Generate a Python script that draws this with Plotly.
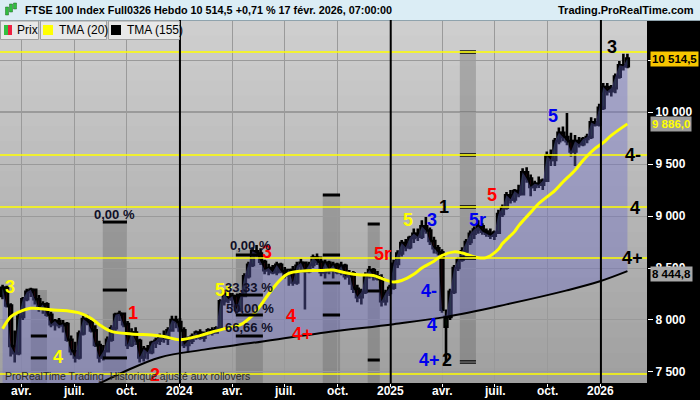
import plotly.graph_objects as go
import pandas as pd

# ---------------- data ----------------
weeks = pd.date_range("2023-02-27", periods=156, freq="7D")

opens = [8230,8310,8140,7750,7680,8030,8200,8270,8290,8200,8110,8150,8050,7960,7990,7950,7960,7810,7700,7640,
         7870,8010,7980,7900,7760,7640,7700,7810,7920,8050,8060,7960,7760,7880,7800,7640,7720,7690,7780,7800,
         7840,7820,7900,8000,7980,7900,7760,7800,7840,7880,7830,7870,7900,7880,7920,8180,8250,8200,8230,8100,
         8230,8420,8530,8660,8640,8560,8480,8500,8460,8530,8470,8430,8480,8360,8520,8550,8470,8530,8600,8560,
         8460,8550,8480,8530,8460,8520,8420,8450,8300,8220,8270,8430,8480,8420,8400,8180,8260,8310,8540,8640,
         8740,8700,8790,8830,8800,8900,8860,8760,8690,8650,7935,8030,8270,8500,8580,8660,8750,8830,8870,8900,
         8850,8830,8810,8840,9020,9080,9200,9160,9240,9210,9420,9360,9280,9310,9300,9340,9580,9540,9720,9800,
         9760,9720,9620,9720,9690,9740,9760,9900,9880,10040,10240,10200,10230,10340,10450,10440]
highs = [8340,8330,8160,7900,8080,8220,8300,8310,8300,8240,8180,8170,8080,8010,8020,8000,7980,7850,7790,7900,
         8040,8050,8000,7950,7800,7760,7840,7950,8070,8090,8070,7990,7920,7930,7820,7750,7760,7800,7830,7870,
         7900,7930,8040,8040,8020,7930,7840,7870,7900,7910,7890,7920,7930,7940,8200,8290,8280,8260,8240,8260,
         8450,8560,8700,8720,8690,8580,8540,8530,8560,8550,8510,8490,8520,8560,8590,8560,8560,8630,8640,8610,
         8580,8570,8560,8550,8560,8540,8480,8470,8340,8300,8460,8520,8500,8470,8440,8290,8340,8580,8670,8770,
         8780,8810,8880,8880,8960,8990,8890,8800,8720,8680,8100,8300,8530,8600,8700,8780,8860,8900,8960,8930,
         8880,8880,8860,9060,9110,9230,9250,9260,9300,9460,9470,9400,9340,9380,9360,9620,9640,9750,9850,9860,
         9990,9800,9780,9760,9760,9790,9950,9940,10080,10280,10280,10260,10370,10490,10560,10560]
lows = [8200,8120,7650,7590,7660,8000,8180,8220,8150,8080,8060,8030,7930,7900,7920,7880,7790,7660,7590,7620,
        7850,7950,7880,7740,7590,7610,7690,7790,7900,7990,7930,7720,7740,7760,7590,7600,7620,7670,7730,7760,
        7780,7760,7890,7920,7880,7730,7690,7770,7810,7810,7790,7850,7850,7870,7910,8140,8160,8120,8060,8080,
        8220,8400,8510,8600,8530,8440,8430,8440,8430,8450,8400,8330,8330,8340,8460,8100,8450,8500,8530,8420,
        8400,8440,8400,8440,8430,8390,8340,8260,8170,8150,8250,8400,8380,8380,8130,8140,8230,8290,8500,8610,
        8660,8680,8740,8760,8780,8830,8720,8640,8620,8070,7590,8000,8250,8470,8560,8640,8720,8780,8830,8820,
        8800,8780,8770,8830,8990,9060,9120,9130,9180,9200,9320,9190,9240,9270,9250,9330,9480,9480,9690,9720,
        9680,9570,9480,9660,9670,9700,9740,9860,9860,10020,10160,10150,10180,10320,10400,10420]
closes = [8310,8140,7750,7680,8030,8200,8270,8290,8200,8110,8150,8050,7960,7990,7950,7960,7810,7700,7640,7870,
          8010,7980,7900,7760,7640,7700,7810,7920,8050,8060,7960,7760,7880,7800,7640,7720,7690,7780,7800,7840,
          7820,7900,8000,7980,7900,7760,7800,7840,7880,7830,7870,7900,7880,7920,8180,8250,8200,8230,8100,8230,
          8420,8530,8660,8640,8560,8480,8500,8460,8530,8470,8430,8480,8360,8520,8550,8470,8530,8600,8560,8460,
          8550,8480,8530,8460,8520,8420,8450,8300,8220,8270,8430,8480,8420,8400,8180,8260,8310,8540,8640,8740,
          8700,8790,8830,8800,8900,8860,8760,8690,8650,8100,8030,8270,8500,8580,8660,8750,8830,8870,8900,8850,
          8830,8810,8840,9020,9080,9200,9160,9240,9210,9420,9360,9280,9310,9300,9340,9580,9540,9720,9800,9760,
          9720,9620,9720,9690,9740,9760,9900,9880,10040,10240,10200,10230,10340,10450,10440,10514.5]

tma20_idx = [0,2,4,7,12,16,19,22,24,27,32,37,40,44,49,52,56,59,62,64,66,69,71,74,79,82,85,89,92,94,97,99,
             102,104,107,109,112,114,118,120,123,124,127,128,131,133,137,139,142,144,147,149,151,155]
tma20_val = [7915,8030,8075,8112,8098,8088,8068,8015,7955,7890,7866,7855,7842,7810,7850,7885,7925,7955,8045,
             8140,8250,8390,8448,8470,8476,8480,8455,8433,8428,8400,8365,8380,8440,8500,8565,8620,8655,8645,
             8598,8600,8680,8735,8850,8905,9035,9120,9245,9327,9440,9535,9650,9705,9775,9886]

tma155_idx = [0,12,24,30,39,50,62,80,97,110,125,140,148,155]
tma155_val = [6980,7180,7390,7500,7640,7715,7780,7880,7960,8030,8150,8285,8370,8470]

yellow_levels = [10577, 9587, 9087, 8596, 7481]
year_dates = ["2024-01-01", "2025-01-01", "2026-01-01"]

band_start = ["2023-04-17", "2023-08-20", "2024-04-07", "2024-09-05", "2024-11-22", "2025-05-01"]
band_end = ["2023-05-15", "2023-10-01", "2024-05-24", "2024-10-05", "2024-12-13", "2025-05-29"]
band_top = [8288, 8942, 8673, 9202, 8933, 10577]
band_bottom = [7394, 7394, 7394, 7394, 7394, 7596]
band_levels = [[7846, 7635], [8942, 8288, 7635], [8625, 8240, 8048, 7846],
               [9202, 8625, 8356, 8048], [8923, 8279, 7615], [10577, 9587, 9087, 8596, 7596]]

wave_dates = ["2023-03-12", "2023-06-03", "2023-10-12", "2023-11-18", "2024-03-17", "2024-05-31",
              "2024-07-12", "2024-08-01", "2024-12-18", "2025-01-31", "2025-03-13", "2025-04-03",
              "2025-05-31", "2025-03-08", "2025-03-13", "2025-03-10", "2025-04-09", "2025-06-26",
              "2025-10-10", "2026-01-20", "2026-02-25", "2026-03-02", "2026-02-25"]
wave_values = [8317, 7644, 8067, 7471, 8288, 8654, 8038, 7865, 8635, 8962, 8962, 9087, 8962, 8279,
               7952, 7615, 7615, 9202, 9962, 10625, 9587, 9077, 8596]
wave_texts = ["3", "4", "1", "2", "5r", "3", "4", "4+", "5r", "5", "3", "1", "5r", "4-", "4", "4+",
              "2", "5", "5", "3", "4-", "4", "4+"]
wave_colors = ["#ffff00", "#ffff00", "#ff0000", "#ff0000", "#ffff00", "#ff0000", "#ff0000", "#ff0000",
               "#ff0000", "#ffff00", "#0000ee", "#000000", "#0000ee", "#0000ee", "#0000ee", "#0000ee",
               "#000000", "#ff0000", "#0000ee", "#000000", "#000000", "#000000", "#000000"]

pct_dates = ["2023-09-09", "2024-05-03", "2024-04-30", "2024-05-02", "2024-04-30"]
pct_values = [9019, 8712, 8308, 8115, 7923]
pct_texts = ["0,00 %", "0,00 %", "33,33 %", "50,00 %", "66,66 %"]

y_tickvals = [7500, 8000, 8500, 9000, 9500, 10000, 10500]
y_ticktext = ["7 500", "8 000", "8 500", "9 000", "9 500", "10 000", "10 500"]
x_tickvals = ["2023-04-01", "2023-07-01", "2023-10-01", "2024-01-01", "2024-04-01", "2024-07-01",
              "2024-10-01", "2025-01-01", "2025-04-01", "2025-07-01", "2025-10-01", "2026-01-01"]
x_ticktext = ["avr.", "juil.", "oct.", "2024", "avr.", "juil.", "oct.", "2025", "avr.", "juil.", "oct.", "2026"]

last_price, tma20_last, tma155_last = 10514.5, 9886.0, 8444.8

# ---------------- layout helpers ----------------
W, H, TOP = 647, 363, 20
FONT = "Liberation Sans, Arial, sans-serif"


def PX(x):
    return x / W


def PY(y):
    return (TOP + H - y) / H


fig = go.Figure()

tma155_x = [weeks[i] for i in tma155_idx]
tma20_x = [weeks[i] for i in tma20_idx]

fig.add_trace(go.Scatter(x=tma155_x, y=tma155_val, mode="lines",
                         line=dict(width=0, shape="spline", smoothing=1.0),
                         hoverinfo="skip", showlegend=False))
fig.add_trace(go.Scatter(x=weeks, y=closes, mode="lines", line=dict(width=0),
                         fill="tonexty", fillcolor="rgba(105,105,200,0.38)",
                         hoverinfo="skip", showlegend=False))
fig.add_trace(go.Scatter(x=tma155_x, y=tma155_val, mode="lines",
                         line=dict(width=2, color="#000000", shape="spline", smoothing=1.0),
                         hoverinfo="skip", showlegend=False))
fig.add_trace(go.Candlestick(x=weeks, open=opens, high=highs, low=lows, close=closes,
                             increasing=dict(line=dict(color="#000000", width=2.6), fillcolor="#33dd33"),
                             decreasing=dict(line=dict(color="#000000", width=2.6), fillcolor="#ff2040"),
                             whiskerwidth=0, hoverinfo="skip", showlegend=False))
fig.add_trace(go.Scatter(x=tma20_x, y=tma20_val, mode="lines",
                         line=dict(width=3, color="#ffff00", shape="spline", smoothing=1.0),
                         hoverinfo="skip", showlegend=False))

shapes = []
# gradient plot background (overlapping bands, no seams)
n = 24
for k in range(n):
    t = k / (n - 1)
    c = int(206 - 46 * t)
    shapes.append(dict(type="rect", xref="paper", yref="paper", x0=0, x1=1,
                       y0=max(0, 1 - (k + 1.6) / n), y1=1 - k / n, fillcolor=f"rgb({c},{c},{c})",
                       line=dict(width=0), layer="below"))
# header
shapes.append(dict(type="rect", xref="paper", yref="paper", x0=0, x1=700 / W, y0=1, y1=1 + TOP / H,
                   fillcolor="#dbedf5", line=dict(width=0), layer="below"))
shapes.append(dict(type="line", xref="paper", yref="paper", x0=0, x1=700 / W, y0=PY(20.5), y1=PY(20.5),
                   line=dict(color="#8fa3ad", width=1), layer="above"))
# header icon
for (ix, iy0, iy1, col) in [(7, 7, 15, "#2fbf3f"), (11, 4, 12, "#2fbf3f"), (15, 3, 9, "#2fbf3f")]:
    shapes.append(dict(type="rect", xref="paper", yref="paper", x0=PX(ix - 1.5), x1=PX(ix + 1.5),
                       y0=PY(iy1), y1=PY(iy0), fillcolor=col, line=dict(color="#226622", width=0.5),
                       layer="above"))
# 10 000 darker grid
shapes.append(dict(type="line", xref="paper", yref="y", x0=0, x1=1, y0=10000, y1=10000,
                   line=dict(color="#707070", width=1), layer="below"))
# grey bands
for s, e, t, b in zip(band_start, band_end, band_top, band_bottom):
    shapes.append(dict(type="rect", xref="x", yref="y", x0=s, x1=e, y0=b, y1=t,
                       fillcolor="rgba(80,80,80,0.28)", line=dict(width=0), layer="below"))
for bi, levels in enumerate(band_levels):
    for lv in levels:
        if bi == len(band_levels) - 1:
            for off in (-11, 11):
                shapes.append(dict(type="line", xref="x", yref="y", x0=band_start[bi], x1=band_end[bi],
                                   y0=lv + off, y1=lv + off, line=dict(color="#000000", width=1.2),
                                   layer="above"))
        else:
            shapes.append(dict(type="line", xref="x", yref="y", x0=band_start[bi], x1=band_end[bi],
                               y0=lv, y1=lv, line=dict(color="#000000", width=3), layer="above"))
# yellow levels
for lv in yellow_levels:
    shapes.append(dict(type="line", xref="paper", yref="y", x0=0, x1=1, y0=lv, y1=lv,
                       line=dict(color="#ffff00", width=1.5), layer="above"))
# year lines
for d in year_dates:
    shapes.append(dict(type="line", xref="x", yref="paper", x0=d, x1=d, y0=0, y1=1,
                       line=dict(color="#000000", width=2), layer="above"))
# legend boxes
for (bx0, bx1) in [(0, 39), (40, 107), (108, 180)]:
    shapes.append(dict(type="rect", xref="paper", yref="paper", x0=PX(bx0 + 0.5), x1=PX(bx1 - 0.5),
                       y0=PY(39.5), y1=PY(21), fillcolor="#e8e8e8", line=dict(color="#a0a0a0", width=1),
                       layer="above"))
shapes.append(dict(type="rect", xref="paper", yref="paper", x0=PX(4), x1=PX(8), y0=PY(35), y1=PY(25),
                   fillcolor="#33c040", line=dict(width=0), layer="above"))
shapes.append(dict(type="rect", xref="paper", yref="paper", x0=PX(8), x1=PX(12), y0=PY(35), y1=PY(25),
                   fillcolor="#ee2040", line=dict(width=0), layer="above"))
shapes.append(dict(type="rect", xref="paper", yref="paper", x0=PX(43), x1=PX(53), y0=PY(35), y1=PY(25),
                   fillcolor="#ffff00", line=dict(width=0), layer="above"))
shapes.append(dict(type="rect", xref="paper", yref="paper", x0=PX(111), x1=PX(121), y0=PY(35), y1=PY(25),
                   fillcolor="#000000", line=dict(width=0), layer="above"))

ann = []
for d, v, t, c in zip(wave_dates, wave_values, wave_texts, wave_colors):
    ann.append(dict(x=d, y=v, xref="x", yref="y", text=f"<b>{t}</b>", showarrow=False,
                    font=dict(family=FONT, size=18, color=c), xanchor="center", yanchor="middle"))
for d, v, t in zip(pct_dates, pct_values, pct_texts):
    ann.append(dict(x=d, y=v, xref="x", yref="y", text=f"<b>{t}</b>", showarrow=False,
                    font=dict(family=FONT, size=13, color="#101028"), xanchor="center", yanchor="middle"))
# x-axis labels (as annotations under the plot)
for d, t in zip(x_tickvals, x_ticktext):
    ann.append(dict(x=d, y=PY(391), xref="x", yref="paper", text=f"<b>{t}</b>", showarrow=False,
                    xanchor="center", yanchor="middle", font=dict(family=FONT, size=12, color="#ffffff")))
# value boxes
for val, txt, bg, fc in [(last_price, "10 514,5", "#f7c600", "#000000"),
                         (tma20_last, "9 886,0", "#9c9c9c", "#ffff00"),
                         (tma155_last, "8 444,8", "#a8a8a8", "#000000")]:
    ann.append(dict(x=1, y=val, xref="paper", yref="y", text=f"<b>{txt}</b>", showarrow=False,
                    xanchor="left", yanchor="middle", xshift=3, bgcolor=bg, borderpad=1,
                    font=dict(family=FONT, size=11.5, color=fc)))
# header texts
ann.append(dict(x=PX(23), y=PY(10), xref="paper", yref="paper", showarrow=False, xanchor="left",
                yanchor="middle",
                text="<b>FTSE 100 Index Full0326 Hebdo 10 514,5 +0,71 % 17 févr. 2026, 07:00:00</b>",
                font=dict(family=FONT, size=10.8, color="#000000")))
ann.append(dict(x=PX(696), y=PY(10), xref="paper", yref="paper", showarrow=False, xanchor="right",
                yanchor="middle", text="<b>Trading.ProRealTime.com</b>",
                font=dict(family=FONT, size=11, color="#000000")))
# legend texts
for lx, txt in [(15, "Prix"), (57, "TMA (20)"), (125, "TMA (155)")]:
    ann.append(dict(x=PX(lx), y=PY(30), xref="paper", yref="paper", showarrow=False, xanchor="left",
                    yanchor="middle", text=txt, font=dict(family=FONT, size=12, color="#000000")))
ann.append(dict(x=PX(3), y=PY(376), xref="paper", yref="paper", showarrow=False, xanchor="left",
                yanchor="middle", text="ProRealTime Trading  Historique ajusté aux rollovers",
                font=dict(family=FONT, size=10.5, color="#2a2a2a")))

fig.update_layout(
    width=700, height=400,
    margin=dict(l=0, r=700 - W, t=TOP, b=400 - TOP - H, pad=0),
    paper_bgcolor="#000000", plot_bgcolor="rgba(0,0,0,0)",
    showlegend=False, boxgap=0.04,
    shapes=shapes, annotations=ann,
    xaxis=dict(type="date", range=["2023-02-22 12:00", "2026-03-22"], tickvals=x_tickvals,
               showticklabels=False, showgrid=True, gridcolor="#9a9a9a",
               gridwidth=1, ticks="outside", ticklen=3, tickcolor="#ffffff", zeroline=False,
               showline=False, rangeslider=dict(visible=False), automargin=False),
    yaxis=dict(side="right", range=[7394, 10885], tickvals=y_tickvals,
               ticktext=[f"<b>{t}</b>" for t in y_ticktext], showgrid=True, gridcolor="#9a9a9a",
               gridwidth=1, ticks="outside", ticklen=5, tickcolor="#ffffff", zeroline=False,
               showline=False, automargin=False,
               tickfont=dict(family=FONT, size=12, color="#ffffff")),
)

fig.write_html("out.html", config={"displayModeBar": False},
               post_script="document.body.style.margin='0';document.body.style.overflow='hidden';")
